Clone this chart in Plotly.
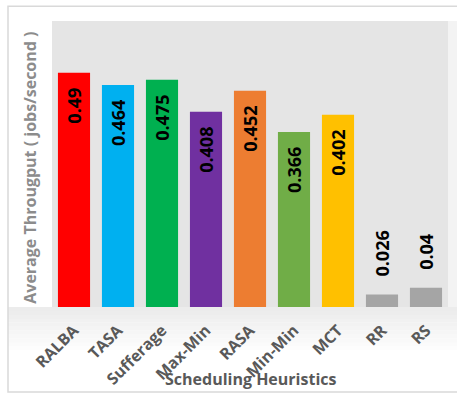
import plotly.graph_objects as go

categories = ["RALBA", "TASA", "Sufferage", "Max-Min", "RASA", "Min-Min", "MCT", "RR", "RS"]
throughput = [0.49, 0.464, 0.475, 0.408, 0.452, 0.366, 0.402, 0.026, 0.04]
value_labels = ["0.49", "0.464", "0.475", "0.408", "0.452", "0.366", "0.402", "0.026", "0.04"]
bar_colors = ["#FF0000", "#00B0F0", "#00B050", "#7030A0", "#ED7D31",
              "#70AD47", "#FFC000", "#A5A5A5", "#A5A5A5"]
label_inside = [True, True, True, True, True, True, True, False, False]

W, H = 457, 398
L, R, T, B = 52, 9, 21, 88

fig = go.Figure()
fig.add_trace(go.Bar(
    x=categories, y=throughput,
    marker=dict(color=bar_colors, line=dict(width=0)),
    hoverinfo="x+y",
))

shapes = []
# gradient band below the plot area
n = 12
top_px, bot_px = H - B, H - 40
for i in range(n):
    y0 = top_px + (bot_px - top_px) * i / n
    y1 = top_px + (bot_px - top_px) * (i + 1) / n
    c = int(236 + (255 - 236) * i / (n - 1))
    shapes.append(dict(type="rect", xref="paper", yref="paper",
                       x0=(8 - L) / (W - L - R), x1=1 + R / (W - L - R),
                       y0=-(y1 - (H - B)) / (H - T - B), y1=-(y0 - (H - B)) / (H - T - B),
                       line=dict(width=0), fillcolor=f"rgb({c},{c},{c})", layer="below"))
# light strip right of the plot area
shapes.append(dict(type="rect", xref="paper", yref="paper",
                   x0=1, x1=1 + R / (W - L - R), y0=0, y1=1,
                   line=dict(width=0), fillcolor="#F3F3F3", layer="below"))
# outer frame
shapes.append(dict(type="rect", xref="paper", yref="paper",
                   x0=(8 - L) / (W - L - R), x1=1 + (R + 20) / (W - L - R),
                   y0=-(396 - (H - B)) / (H - T - B), y1=1 + (T - 6) / (H - T - B),
                   line=dict(color="#D9D9D9", width=1.5), fillcolor="rgba(0,0,0,0)"))

annotations = []
for cat, v, lab, inside in zip(categories, throughput, value_labels, label_inside):
    annotations.append(dict(
        x=cat, y=v, xref="x", yref="y", text=lab, showarrow=False,
        textangle=-90,
        yanchor="top" if inside else "bottom",
        yshift=-13 if inside else 16,
        font=dict(family="Open Sans", size=18, color="#000000", weight="bold"),
    ))
annotations.append(dict(
    xref="paper", yref="paper", x=(250 - L) / (W - L - R), y=-(383 - (H - B)) / (H - T - B),
    text="Scheduling Heuristics", showarrow=False, xanchor="center", yanchor="middle",
    font=dict(family="Open Sans", size=16, color="#595959", weight="bold"),
))
annotations.append(dict(
    xref="paper", yref="paper", x=(30 - L) / (W - L - R), y=0.5 - (163 - 165) / (H - T - B) - 0.02,
    text="Average Througput ( jobs/second )", showarrow=False, textangle=-90,
    xanchor="center", yanchor="middle",
    font=dict(family="Open Sans", size=16, color="#8C8C8C", weight="bold"),
))

fig.update_layout(
    width=W, height=H,
    margin=dict(l=L, r=R, t=T, b=B),
    paper_bgcolor="#FFFFFF",
    plot_bgcolor="#E5E5E5",
    bargap=0.27,
    showlegend=False,
    shapes=shapes,
    annotations=annotations,
    xaxis=dict(tickangle=-45, showgrid=False, showline=False, ticks="",
               ticklabelstandoff=10,
               tickfont=dict(family="Open Sans", size=16, color="#595959", weight="bold")),
    yaxis=dict(range=[0, 0.598], showgrid=False, showticklabels=False, zeroline=False,
               showline=False, ticks=""),
)

fig.write_html("out.html")
